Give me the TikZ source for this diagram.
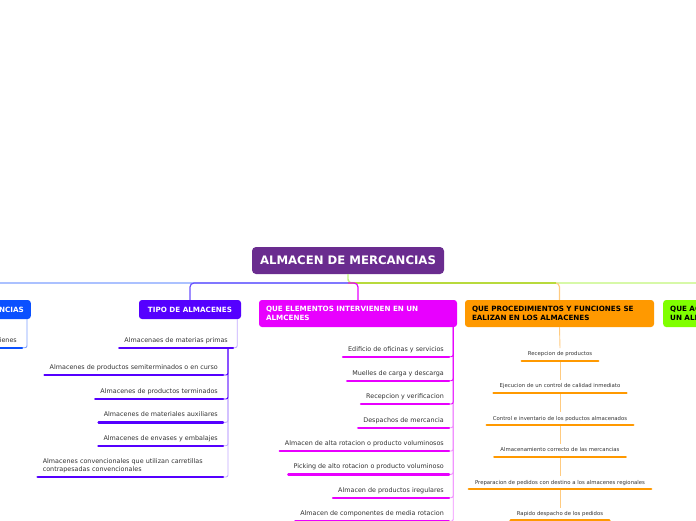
\documentclass[tikz,border=0pt]{standalone}
\usepackage{fontspec}
\setmainfont{DejaVu Sans}
\usepackage{xcolor}
\usepackage{tikz}
\usetikzlibrary{positioning}
\definecolor{Ink}{HTML}{333333}
\definecolor{Root}{HTML}{6A2C8F}
\definecolor{Blue}{HTML}{0A50FF}
\definecolor{Violet}{HTML}{5500FF}
\definecolor{Magenta}{HTML}{E800FF}
\definecolor{Orange}{HTML}{FF9900}
\definecolor{Lime}{HTML}{80FF00}
\definecolor{SoftBlue}{HTML}{7FA0FF}
\definecolor{SoftViolet}{HTML}{6A50FF}
\definecolor{PaleViolet}{HTML}{C4ABFF}
\definecolor{PaleMagenta}{HTML}{F290FF}
\definecolor{SoftOrange}{HTML}{FFCB80}
\definecolor{SoftLime}{HTML}{C2F77A}
\definecolor{Olive}{HTML}{B8DA3C}

\begin{document}
\begin{tikzpicture}[
  x=1pt, y=-1pt,
  root/.style={rounded corners=4pt, fill=Root, text=white, font=\bfseries\fontsize{11.7}{14}\selectfont, minimum width=192pt, minimum height=27pt, inner sep=0pt},
  topic/.style={rounded corners=3pt, text=white, font=\bfseries\fontsize{7.2}{8.6}\selectfont, inner xsep=7pt, inner ysep=0pt, align=left},
  leafbase/.style={text=Ink, font=\fontsize{6.4}{8}\selectfont, inner xsep=5pt, inner ysep=4pt},
  leaf/.style={leafbase, text height=4.8pt, text depth=1.5pt},
  small/.style={leaf, font=\fontsize{5.35}{6.5}\selectfont, inner xsep=6pt, inner ysep=3.5pt, text height=4pt, text depth=1.2pt},
  uline/.style={line width=2.4pt, line cap=round},
  link/.style={line width=1.2pt, rounded corners=4pt},
  twig/.style={line width=0.9pt, rounded corners=2pt}
]
\useasboundingbox[fill=white] (0,0) rectangle (696,520);

\node[root] (root) at (348,260.5) {ALMACEN DE MERCANCIAS};
\coordinate (hub) at (348,283);

\node[topic, fill=Blue, anchor=east, minimum height=19pt, text width=126pt, align=right] (ncias) at (31,309.5) {NCIAS};
\node[topic, fill=Violet, minimum width=102pt, minimum height=19pt] (tipo) at (190,309.5) {TIPO DE ALMACENES};
\node[topic, fill=Magenta, minimum height=27pt, text width=184pt] (elem) at (358,313.5) {QUE ELEMENTOS INTERVIENEN EN UN\\ALMCENES};
\node[topic, fill=Orange, text=black, minimum height=27pt, text width=175pt] (proc) at (559.5,313.5) {QUE PROCEDIMIENTOS Y FUNCIONES SE\\EALIZAN EN LOS ALMACENES};
\node[topic, fill=Lime, text=black, anchor=west, minimum height=27pt, text width=176pt] (lime) at (663,313.5) {QUE AC\\UN ALM};

\draw[link, SoftLime] (root.south) |- (hub) -| (lime.north);
\draw[link, SoftOrange] (hub) -| (proc.north);
\draw[link, Olive, shorten >=4pt] (hub) -- (hub -| proc.north);
\draw[link, Magenta] (hub) -| (elem.north);
\draw[link, SoftBlue] (hub) -| (ncias.north);
\draw[link, SoftViolet] (hub) -| (tipo.north);

\node[leaf, anchor=south east] (b1) at (22,347.7) {ienes};
\draw[twig, SoftBlue] ([xshift=-4pt]ncias.south east) |- (b1.south east);
\draw[uline, Blue] (b1.south west) -- (b1.south east);

\node[leaf, anchor=south east] (v1) at (233,347.7) {Almacenaes de materias primas};
\node[leaf, anchor=south east] (v2) at (223,375) {Almacenes de productos semiterminados o en curso};
\node[leaf, anchor=south east] (v3) at (223,399) {Almacenes de productos terminados};
\node[leaf, anchor=south east] (v4) at (223,422.3) {Almacenes de materiales auxiliares};
\node[leaf, anchor=south east] (v5) at (223,445.7) {Almacenes de envases y embalajes};
\node[leafbase, anchor=south east, text width=175pt, align=left] (v6) at (223,477) {Almacenes convencionales que utilizan carretillas\\contrapesadas convencionales};
\draw[twig, PaleViolet] ([xshift=-4pt]tipo.south east) |- (v1.south east);
\foreach \n in {v6,v5,v4}
  \draw[twig, PaleViolet] ([xshift=-5pt]v1.south east) |- (\n.south east);
\foreach \n in {v3,v2}
  \draw[twig, Violet] ([xshift=-5pt]v1.south east) |- (\n.south east);
\foreach \n in {v1,v2,v3,v4,v5,v6}
  \draw[uline, Violet] (\n.south west) -- (\n.south east);

\node[leaf, anchor=south east] (m1) at (449,356.7) {Edificio de oficinas y servicios};
\node[leaf, anchor=south east] (m2) at (449,380.7) {Muelles de carga y descarga};
\node[leaf, anchor=south east] (m3) at (449,404) {Recepcion y verificacion};
\node[leaf, anchor=south east] (m4) at (449,427.7) {Despachos de mercancia};
\node[leaf, anchor=south east] (m5) at (449,451) {Almacen de alta rotacion o producto voluminosos};
\node[leaf, anchor=south east] (m6) at (449,474.3) {Picking de alto rotacion o producto voluminoso};
\node[leaf, anchor=south east] (m7) at (449,497.7) {Almacen de productos iregulares};
\node[leaf, anchor=south east] (m8) at (449,521.3) {Almacen de componentes de media rotacion};
\foreach \n in {m8,m7,m6,m5,m4}
  \draw[twig, PaleMagenta] ([xshift=-4pt]elem.south east) |- (\n.south east);
\foreach \n in {m3,m2,m1}
  \draw[twig, Magenta] ([xshift=-4pt]elem.south east) |- (\n.south east);
\foreach \n in {m1,m2,m3,m4,m5,m6,m7,m8}
  \draw[uline, Magenta] (\n.south west) -- (\n.south east);

\node[small, anchor=south] (o1) at (560,360.7) {Recepcion de productos};
\node[small, anchor=south] (o2) at (560,392.7) {Ejecucion de un control de calidad inmediato};
\node[small, anchor=south] (o3) at (560,425) {Control e inventario de los poductos almacenados};
\node[small, anchor=south] (o4) at (560,456.7) {Almacenamiento correcto de las mercancias};
\node[small, anchor=south] (o5) at (560,489) {Preparacion de pedidos con destino a los almacenes regionales};
\node[small, anchor=south] (o6) at (560,520.6) {Rapido despacho de los pedidos};
\draw[twig, SoftOrange] (proc.south) -- (o1.north);
\foreach \a/\b in {o1/o2,o2/o3,o3/o4,o4/o5,o5/o6}
  \draw[twig, SoftOrange] (\a.south) -- (\b.north);
\foreach \n in {o1,o2,o3,o4,o5,o6}
  \draw[uline, Orange] (\n.south west) -- (\n.south east);
\end{tikzpicture}
\end{document}
